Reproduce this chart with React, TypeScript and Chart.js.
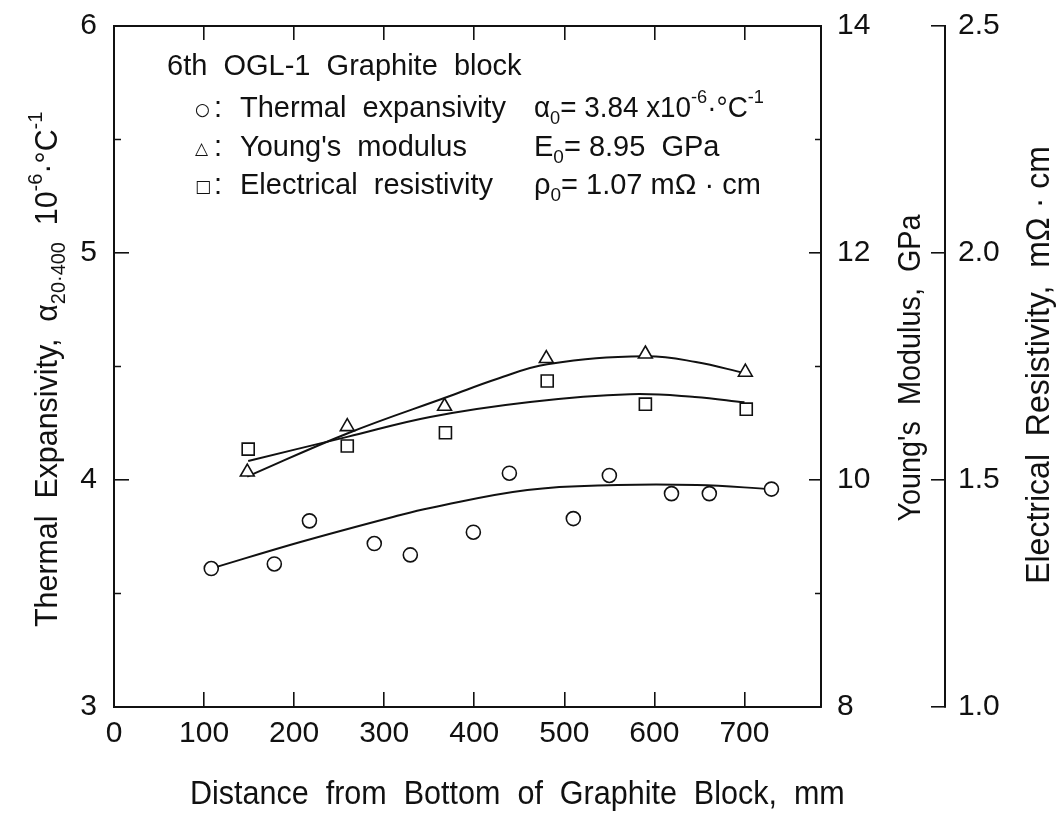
import { useEffect, useRef } from 'react';
import { Chart, registerables } from 'chart.js';

Chart.register(...registerables);

// ---------- data ----------
const xTicks = [0, 100, 200, 300, 400, 500, 600, 700];
const xLabels = ['0', '100', '200', '300', '400', '500', '600', '700'];
const xTopTicks = [100, 200, 300, 400, 500, 600, 700];

const thermalTicks = [3, 4, 5, 6];
const thermalLabels = ['3', '4', '5', '6'];
const thermalMinor = [3.5, 4.5, 5.5];

const youngTicks = [8, 10, 12, 14];
const youngLabels = ['8', '10', '12', '14'];
const youngMinor = [9, 11, 13];

const resistTicks = [1.0, 1.5, 2.0, 2.5];
const resistLabels = ['1.0', '1.5', '2.0', '2.5'];

// measured points
const thermalX = [108, 178, 217, 289, 329, 399, 439, 510, 550, 619, 661, 730];
const thermalY = [3.61, 3.63, 3.82, 3.72, 3.67, 3.77, 4.03, 3.83, 4.02, 3.94, 3.94, 3.96];

const youngX = [148, 259, 367, 480, 590, 701];
const youngY = [10.07, 10.47, 10.65, 11.07, 11.11, 10.95];

const resistX = [149, 259, 368, 481, 590, 702];
const resistY = [1.568, 1.575, 1.604, 1.718, 1.667, 1.656];

// fitted curves
const thermalFitX = [108, 207, 318, 351, 459, 559, 647, 730];
const thermalFitY = [3.61, 3.727, 3.846, 3.877, 3.956, 3.978, 3.978, 3.96];

const youngFitX = [148, 259, 373, 425, 481, 590, 646, 701];
const youngFitY = [10.03, 10.41, 10.74, 10.89, 11.02, 11.09, 11.04, 10.94];

const resistFitX = [149, 259, 351, 462, 573, 645, 700];
const resistFitY = [1.542, 1.595, 1.639, 1.672, 1.689, 1.683, 1.671];

// ---------- styling ----------
const INK = '#111111';
const FONT = "'Liberation Sans', Arial, sans-serif";
const SYM = "'DejaVu Sans', sans-serif";

const pts = (xs: number[], ys: number[]) => xs.map((x, i) => ({ x, y: ys[i] }));

type Seg = { t: string; s: number; dy?: number; f?: string };

function rich(
  ctx: CanvasRenderingContext2D,
  segs: Seg[],
  x: number,
  y: number,
  rot: number,
  align: 'left' | 'center',
  sx = 1,
) {
  ctx.save();
  ctx.translate(x, y);
  ctx.rotate(rot);
  ctx.scale(sx, 1);
  ctx.fillStyle = INK;
  ctx.textBaseline = 'alphabetic';
  ctx.textAlign = 'left';
  let total = 0;
  const widths = segs.map((sg) => {
    ctx.font = `${sg.s}px ${sg.f || FONT}`;
    const w = ctx.measureText(sg.t).width;
    total += w;
    return w;
  });
  let cx = align === 'center' ? -total / 2 : 0;
  segs.forEach((sg, i) => {
    ctx.font = `${sg.s}px ${sg.f || FONT}`;
    ctx.fillText(sg.t, cx, sg.dy || 0);
    cx += widths[i];
  });
  ctx.restore();
}

const minorTicksPlugin = {
  id: 'minorTicks',
  afterDraw(chart: any) {
    const ctx: CanvasRenderingContext2D = chart.ctx;
    const a = chart.chartArea;
    const yS = chart.scales.y;
    const y2S = chart.scales.y2;
    ctx.save();
    ctx.strokeStyle = INK;
    ctx.lineWidth = 1.5;
    thermalMinor.forEach((v) => {
      const p = yS.getPixelForValue(v);
      ctx.beginPath();
      ctx.moveTo(a.left, p);
      ctx.lineTo(a.left + 7, p);
      ctx.stroke();
    });
    youngMinor.forEach((v) => {
      const p = y2S.getPixelForValue(v);
      ctx.beginPath();
      ctx.moveTo(a.right, p);
      ctx.lineTo(a.right - 6, p);
      ctx.stroke();
    });
    ctx.restore();
  },
};

const textPlugin = {
  id: 'texts',
  afterDraw(chart: any) {
    const ctx: CanvasRenderingContext2D = chart.ctx;
    const S = 29;
    const sub = 19;
    // header
    rich(ctx, [{ t: '6th  OGL-1  Graphite  block', s: S }], 167, 75, 0, 'left');
    // legend symbols + text
    rich(ctx, [{ t: '○', s: 17, f: SYM }], 195, 115, 0, 'left');
    rich(ctx, [{ t: '△', s: 17, f: SYM }], 195, 154, 0, 'left');
    rich(ctx, [{ t: '□', s: 17, f: SYM }], 195, 192, 0, 'left');
    rich(ctx, [{ t: ':', s: S }], 214, 117, 0, 'left');
    rich(ctx, [{ t: ':', s: S }], 214, 156, 0, 'left');
    rich(ctx, [{ t: ':', s: S }], 214, 194, 0, 'left');
    rich(ctx, [{ t: 'Thermal  expansivity', s: S }], 240, 117, 0, 'left');
    rich(ctx, [{ t: "Young's  modulus", s: S }], 240, 156, 0, 'left');
    rich(ctx, [{ t: 'Electrical  resistivity', s: S }], 240, 194, 0, 'left');
    // values
    rich(
      ctx,
      [
        { t: 'α', s: S },
        { t: '0', s: sub, dy: 7 },
        { t: '= 3.84 x10', s: S },
        { t: '-6', s: sub, dy: -14 },
        { t: '·°C', s: S },
        { t: '-1', s: sub, dy: -14 },
      ],
      534,
      117,
      0,
      'left',
      0.96,
    );
    rich(
      ctx,
      [
        { t: 'E', s: S },
        { t: '0', s: sub, dy: 7 },
        { t: '= 8.95  GPa', s: S },
      ],
      534,
      156,
      0,
      'left',
    );
    rich(
      ctx,
      [
        { t: 'ρ', s: S },
        { t: '0', s: sub, dy: 7 },
        { t: '= 1.07 mΩ · cm', s: S },
      ],
      534,
      194,
      0,
      'left',
    );

    // x-axis title
    rich(ctx, [{ t: 'Distance  from  Bottom  of  Graphite  Block,  mm', s: 33 }], 190, 804, 0, 'left', 0.925);

    // left y-axis title
    rich(
      ctx,
      [
        { t: 'Thermal  Expansivity,  ', s: 32 },
        { t: 'α', s: 32 },
        { t: '20·400', s: 21, dy: 8 },
        { t: '  10', s: 32 },
        { t: '-6', s: 21, dy: -15 },
        { t: '·°C', s: 32 },
        { t: '-1', s: 21, dy: -15 },
      ],
      57,
      627,
      -Math.PI / 2,
      'left',
      0.95,
    );

    // right titles
    rich(ctx, [{ t: "Young's  Modulus,  GPa", s: 32 }], 920, 368, -Math.PI / 2, 'center', 0.9);
    rich(ctx, [{ t: 'Electrical  Resistivity,  mΩ · cm', s: 33 }], 1049, 365, -Math.PI / 2, 'center', 0.97);
  },
};

function setTicks(values: number[]) {
  return (scale: any) => {
    scale.ticks = values.map((v) => ({ value: v }));
  };
}

function fixSize(w: number | null, h: number | null) {
  return (s: any) => {
    if (w !== null) s.width = w;
    if (h !== null) s.height = h;
    s.paddingTop = 0;
    s.paddingBottom = 0;
    s.paddingLeft = 0;
    s.paddingRight = 0;
  };
}

function axisCommon(labels: string[] | null, tickLen: number, pad: number) {
  return {
    ticks: {
      display: labels !== null,
      autoSkip: false,
      maxRotation: 0,
      minRotation: 0,
      padding: pad,
      color: INK,
      font: { family: FONT, size: 30 },
      callback: (_v: any, i: number) => (labels ? labels[i] : ''),
    },
    grid: {
      display: true,
      drawOnChartArea: false,
      drawTicks: true,
      tickLength: tickLen,
      color: INK,
      lineWidth: 1.6,
    },
    border: { display: true, color: INK, width: 2 },
  };
}

export default function App() {
  const ref = useRef<HTMLCanvasElement | null>(null);

  useEffect(() => {
    document.body.style.margin = '0';
    const canvas = ref.current;
    if (!canvas) return;

    const pointDs = (data: any, yAxisID: string, style: string, r: number) => ({
      type: 'line',
      data,
      xAxisID: 'x',
      yAxisID,
      showLine: false,
      pointStyle: style,
      pointRadius: r,
      pointHoverRadius: r,
      pointBorderWidth: 1.6,
      pointBorderColor: INK,
      pointBackgroundColor: '#ffffff',
      borderColor: INK,
    });
    const fitDs = (data: any, yAxisID: string) => ({
      type: 'line',
      data,
      xAxisID: 'x',
      yAxisID,
      pointRadius: 0,
      borderColor: INK,
      borderWidth: 2,
      tension: 0.4,
      fill: false,
    });

    const chart = new Chart(canvas, {
      type: 'line',
      data: {
        datasets: [
          pointDs(pts(thermalX, thermalY), 'y', 'circle', 7),
          pointDs(pts(youngX, youngY), 'y2', 'triangle', 8),
          pointDs(pts(resistX, resistY), 'y3', 'rect', 8.5),
          fitDs(pts(thermalFitX, thermalFitY), 'y'),
          fitDs(pts(youngFitX, youngFitY), 'y2'),
          fitDs(pts(resistFitX, resistFitY), 'y3'),
        ] as any,
      },
      options: {
        responsive: false,
        animation: false,
        events: [],
        layout: { padding: 0 },
        plugins: { legend: { display: false }, tooltip: { enabled: false }, title: { display: false } },
        scales: {
          x: {
            type: 'linear',
            axis: 'x',
            position: 'bottom',
            min: 0,
            max: 785,
            afterBuildTicks: setTicks(xTicks),
            afterFit: fixSize(null, 107),
            ...axisCommon(xLabels, -15, 24),
          },
          xTop: {
            type: 'linear',
            axis: 'x',
            position: 'top',
            min: 0,
            max: 785,
            afterBuildTicks: setTicks(xTopTicks),
            afterFit: fixSize(null, 26),
            ...axisCommon(null, -14, 0),
          },
          y: {
            type: 'linear',
            axis: 'y',
            position: 'left',
            min: 3,
            max: 6,
            afterBuildTicks: setTicks(thermalTicks),
            afterFit: fixSize(114, null),
            ...axisCommon(thermalLabels, -15, 32),
          },
          y2: {
            type: 'linear',
            axis: 'y',
            position: 'right',
            weight: 0,
            min: 8,
            max: 14,
            afterBuildTicks: setTicks(youngTicks),
            afterFit: fixSize(124, null),
            ...axisCommon(youngLabels, -12, 28),
          },
          y3: {
            type: 'linear',
            axis: 'y',
            position: 'right',
            weight: 1,
            min: 1.0,
            max: 2.5,
            afterBuildTicks: setTicks(resistTicks),
            afterFit: fixSize(119, null),
            ...axisCommon(resistLabels, -14, 27),
          },
        } as any,
      },
      plugins: [minorTicksPlugin, textPlugin],
    });

    return () => chart.destroy();
  }, []);

  return (
    <div style={{ width: 1064, height: 814, background: '#ffffff' }}>
      <canvas ref={ref} width={1064} height={814} style={{ display: 'block' }} />
    </div>
  );
}
